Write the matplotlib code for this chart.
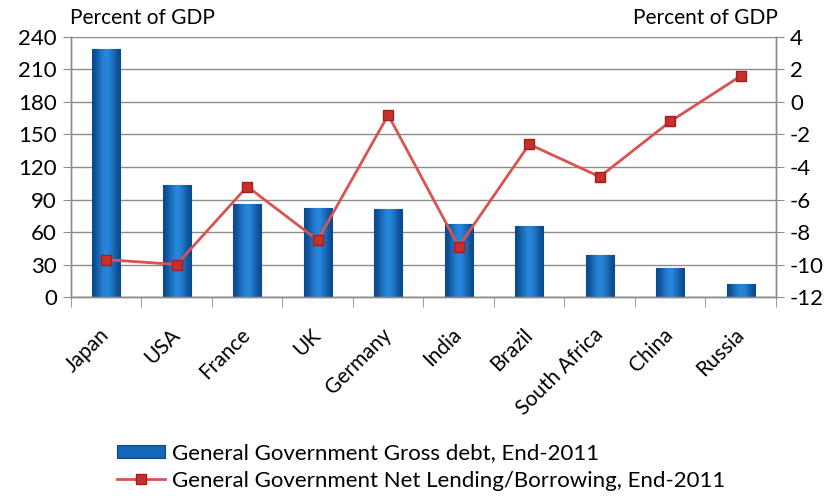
import numpy as np
import matplotlib
matplotlib.use('Agg')
import matplotlib.pyplot as plt

COUNTRIES = ['Japan', 'USA', 'France', 'UK', 'Germany', 'India', 'Brazil',
             'South Africa', 'China', 'Russia']
GROSS_DEBT = [229, 103, 86, 82, 81, 67, 66, 39, 27, 12]
NET_LENDING = [-9.7, -10.0, -5.2, -8.5, -0.8, -8.9, -2.6, -4.6, -1.2, 1.6]
LEFT_TICKS = list(range(0, 241, 30))
RIGHT_TICKS = list(range(-12, 5, 2))

plt.rcParams['font.family'] = ['Lato', 'DejaVu Sans']

fig = plt.figure(figsize=(8.31, 5.04), dpi=100)
ax = fig.add_axes([0.0854, 0.4107, 0.8484, 0.5159])
ax2 = ax.twinx()

x = np.arange(len(COUNTRIES))
ax.set_zorder(1)
ax.patch.set_visible(False)

# bars with a simple left-right gradient
bars = ax.bar(x, GROSS_DEBT, width=0.4, color='#1565b8', edgecolor='#0b4785',
              linewidth=0.8, zorder=2, label='General Government Gross debt, End-2011')
grad = np.array([[0.0, 0.35, 0.7, 0.9, 0.7, 0.35, 0.0]])
cmap = matplotlib.colors.LinearSegmentedColormap.from_list('b', ['#0a4a8e', '#2a8ae0'])
for b in bars:
    im = ax.imshow(grad, extent=[b.get_x(), b.get_x() + b.get_width(), 0, b.get_height()],
                   aspect='auto', cmap=cmap, zorder=2.1, interpolation='bicubic')
    im.set_clip_path(b)

ax.set_xlim(-0.5, len(COUNTRIES) - 0.5)
ax.set_ylim(0, 240)
ax.set_yticks(LEFT_TICKS)
ax.set_yticklabels([str(t) for t in LEFT_TICKS], fontsize=16)
ax.grid(axis='y', color='#8c8c8c', linewidth=1, zorder=0)
ax.set_axisbelow(True)

ax.set_xticks(x)
ax.set_xticklabels(COUNTRIES, rotation=45, ha='right', va='center',
                   rotation_mode='anchor', fontsize=15)
ax.tick_params(axis='x', length=0, pad=25)
ax.set_xticks(np.arange(-0.5, len(COUNTRIES)), minor=True)
ax.tick_params(axis='x', which='minor', length=7, color='#8c8c8c', direction='out')
ax.tick_params(axis='y', length=6, color='#8c8c8c', pad=4)

ax2.set_ylim(-12, 4)
ax2.set_yticks(RIGHT_TICKS)
ax2.set_yticklabels([str(t) for t in RIGHT_TICKS], fontsize=16)
ax2.tick_params(axis='y', length=6, color='#8c8c8c', pad=4)

ln = ax2.plot(x, NET_LENDING, color='#d9534f', linewidth=2, marker='s', markersize=7,
              markerfacecolor='#c8302c', markeredgecolor='#9e1f1c', zorder=3,
              label='General Government Net Lending/Borrowing, End-2011')[0]
ax2.set_zorder(2)

for a in (ax, ax2):
    a.spines['top'].set_visible(False)
    for s in ('left', 'right', 'bottom'):
        a.spines[s].set_color('#8c8c8c')
        a.spines[s].set_linewidth(1)

fig.text(0.0842, 0.944, 'Percent of GDP', fontsize=15, ha='left', va='bottom')
fig.text(0.936, 0.944, 'Percent of GDP', fontsize=15, ha='right', va='bottom')

fig.legend([bars, ln], [bars.get_label(), ln.get_label()], loc='upper left',
           bbox_to_anchor=(0.141, 0.12), frameon=False, fontsize=16,
           handlelength=2.15, handleheight=0.55, handletextpad=0.3,
           labelspacing=0.32, borderaxespad=0, borderpad=0)

fig.savefig('out.png', dpi=100)
